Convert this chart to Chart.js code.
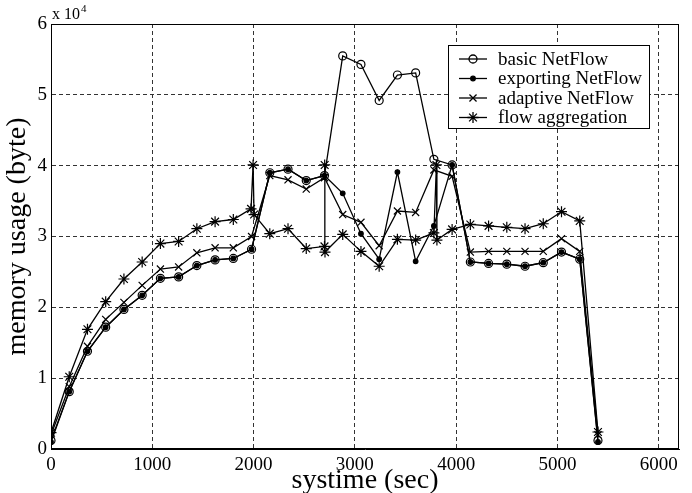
<!DOCTYPE html>
<html>
<head>
<meta charset="utf-8">
<title>memory usage</title>
<script src="https://cdn.jsdelivr.net/npm/chart.js"></script>
<style>
    html, body { margin: 0; padding: 0; background: #fff; }
</style>
</head>
<body>
<canvas id="usoMemoria" width="692" height="493"></canvas>
<script>
// tiempos de muestreo (sec)
const tiempos = [0, 180, 360, 540, 720, 900, 1080, 1260, 1440, 1620, 1800, 1980, 2160, 2340, 2520, 2700,
    2880, 3060, 3240, 3420, 3600, 3780, 3960, 4140, 4320, 4500, 4680, 4860, 5040, 5220, 5400];

// memoria en unidades de 10^4 bytes
const basicNetflow = [0.12, 0.81, 1.38, 1.72, 1.97, 2.17, 2.41, 2.43, 2.59, 2.67, 2.69, 2.82, 3.90, 3.95, 3.79, 3.86,
    5.55, 5.43, 4.92, 5.28, 5.31, 4.09, 4.01, 2.64, 2.62, 2.61, 2.58, 2.63, 2.78, 2.68, 0.12];
const exportingNetflow = [0.10, 0.81, 1.38, 1.72, 1.97, 2.17, 2.41, 2.43, 2.59, 2.67, 2.69, 2.82, 3.90, 3.95, 3.79, 3.86,
    3.61, 3.04, 2.68, 3.91, 2.65, 3.15, 4.01, 2.64, 2.62, 2.61, 2.58, 2.63, 2.78, 2.68, 0.10];
const adaptiveNetflow = [0.20, 0.88, 1.45, 1.83, 2.07, 2.31, 2.54, 2.57, 2.77, 2.84, 2.84, 3.00, 3.86, 3.80, 3.67, 3.83,
    3.31, 3.20, 2.87, 3.36, 3.34, 3.94, 3.85, 2.78, 2.79, 2.79, 2.79, 2.79, 2.97, 2.79, 0.20];

// flow aggregation tiene saltos verticales, por eso lleva sus propios tiempos
const tiemposAgg = [0, 180, 360, 540, 720, 900, 1080, 1260, 1440, 1620, 1800, 1975, 1995, 2005, 2160, 2340, 2520,
    2700, 2702, 2705, 2880, 3060, 3240, 3420, 3600, 3780, 3805, 3810, 3960, 4140, 4320, 4500, 4680, 4860, 5040, 5220, 5400];
const flowAggregation = [0.23, 1.02, 1.69, 2.08, 2.40, 2.64, 2.90, 2.93, 3.11, 3.21, 3.24, 3.39, 4.01, 3.31, 3.04, 3.11, 2.83,
    2.86, 4.01, 2.78, 3.03, 2.79, 2.58, 2.96, 2.95, 3.05, 4.01, 2.95, 3.10, 3.17, 3.15, 3.13, 3.11, 3.18, 3.35, 3.22, 0.24];

const ticksX = [0, 1000, 2000, 3000, 4000, 5000, 6000];
const ticksY = [0, 1, 2, 3, 4, 5, 6];

const fuente = 'Liberation Serif, Times New Roman, serif';

function puntos(xs, ys) {
    return xs.map((x, i) => ({ x: x, y: ys[i] }));
}

const bgColor = {
    id: 'bgColor',
    beforeDraw: (chart) => {
        const { ctx, width, height } = chart;
        ctx.save();
        ctx.fillStyle = 'white';
        ctx.fillRect(0, 0, width, height);
        ctx.restore();
    }
};

// marco completo + "x 10^4" + leyenda con caja
const extras = {
    id: 'extras',
    afterDraw: (chart) => {
        const { ctx, chartArea } = chart;
        const { left, top, right, bottom } = chartArea;
        ctx.save();
        ctx.strokeStyle = '#000';
        ctx.lineWidth = 1;
        ctx.strokeRect(left + 0.5, top + 0.5, right - left - 1, bottom - top - 1);

        ctx.fillStyle = '#000';
        ctx.textBaseline = 'alphabetic';
        ctx.textAlign = 'left';
        ctx.font = '16px ' + fuente;
        ctx.fillText('x 10', left + 1, top - 5);
        const w10 = ctx.measureText('x 10').width;
        ctx.font = '11px ' + fuente;
        ctx.fillText('4', left + 2 + w10, top - 12);

        // leyenda
        const bx = right - 231, by = top + 21, bw = 201, bh = 83;
        ctx.fillStyle = '#fff';
        ctx.fillRect(bx, by, bw, bh);
        ctx.strokeRect(bx + 0.5, by + 0.5, bw, bh);
        ctx.font = '19px ' + fuente;
        ctx.textBaseline = 'middle';
        chart.data.datasets.forEach((ds, i) => {
            const y = by + 14 + i * 19.5;
            ctx.strokeStyle = '#000';
            ctx.lineWidth = ds.borderWidth;
            ctx.beginPath();
            ctx.moveTo(bx + 11, y);
            ctx.lineTo(bx + 39, y);
            ctx.stroke();
            ctx.fillStyle = ds.pointBackgroundColor;
            Chart.helpers.drawPoint(ctx, {
                pointStyle: ds.pointStyle,
                radius: ds.pointRadius,
                borderWidth: ds.pointBorderWidth,
                rotation: 0
            }, bx + 25, y);
            ctx.fillStyle = '#000';
            ctx.fillText(ds.label, bx + 50, y + 1);
        });
        ctx.restore();
    }
};

function serie(label, xs, ys, estilo, radio, relleno) {
    return {
        label: label,
        data: puntos(xs, ys),
        showLine: true,
        borderColor: '#000',
        borderWidth: 1.3,
        pointStyle: estilo,
        pointRadius: radio,
        pointHoverRadius: radio,
        pointBorderWidth: 1.2,
        pointBorderColor: '#000',
        pointBackgroundColor: relleno
    };
}

let chart1;

function crearGrafico() {
    const ctx = document.getElementById('usoMemoria').getContext('2d');
    if (chart1) {
        chart1.destroy();
    }
    chart1 = new Chart(ctx, {
        type: 'scatter',
        data: {
            datasets: [
                serie('basic NetFlow', tiempos, basicNetflow, 'circle', 4, 'rgba(0,0,0,0)'),
                serie('exporting NetFlow', tiempos, exportingNetflow, 'circle', 2.3, '#000'),
                serie('adaptive NetFlow', tiempos, adaptiveNetflow, 'crossRot', 5, '#000'),
                serie('flow aggregation', tiemposAgg, flowAggregation, 'star', 5.5, '#000')
            ]
        },
        options: {
            responsive: false,
            animation: false,
            layout: { padding: { top: 24, right: 13, left: 0, bottom: 0 } },
            plugins: {
                legend: { display: false },
                tooltip: { enabled: false }
            },
            scales: {
                x: {
                    type: 'linear',
                    min: 0,
                    max: 6200,
                    afterBuildTicks: (scale) => { scale.ticks = ticksX.map(v => ({ value: v })); },
                    afterFit: (scale) => { scale.height = 44; },
                    ticks: {
                        color: '#000',
                        padding: 5,
                        maxRotation: 0,
                        callback: (v) => String(v),
                        font: { family: fuente, size: 19 }
                    },
                    grid: { color: '#333', lineWidth: 1, drawTicks: false },
                    border: { display: true, color: '#000', width: 1, dash: [4, 3] },
                    title: {
                        display: true,
                        text: 'systime (sec)',
                        color: '#000',
                        font: { family: fuente, size: 28, lineHeight: 1 },
                        padding: { top: 0, bottom: -2 }
                    }
                },
                y: {
                    min: 0,
                    max: 6,
                    afterBuildTicks: (scale) => { scale.ticks = ticksY.map(v => ({ value: v })); },
                    afterFit: (scale) => { scale.width = 51; },
                    ticks: {
                        color: '#000',
                        padding: 4,
                        callback: (v) => String(v),
                        font: { family: fuente, size: 19 }
                    },
                    grid: { color: '#333', lineWidth: 1, drawTicks: false },
                    border: { display: true, color: '#000', width: 1, dash: [4, 3] },
                    title: {
                        display: true,
                        text: 'memory usage (byte)',
                        color: '#000',
                        font: { family: fuente, size: 28, lineHeight: 1 },
                        padding: { top: 4, bottom: 0 }
                    }
                }
            }
        },
        plugins: [bgColor, extras]
    });
}

crearGrafico();
</script>
</body>
</html>
